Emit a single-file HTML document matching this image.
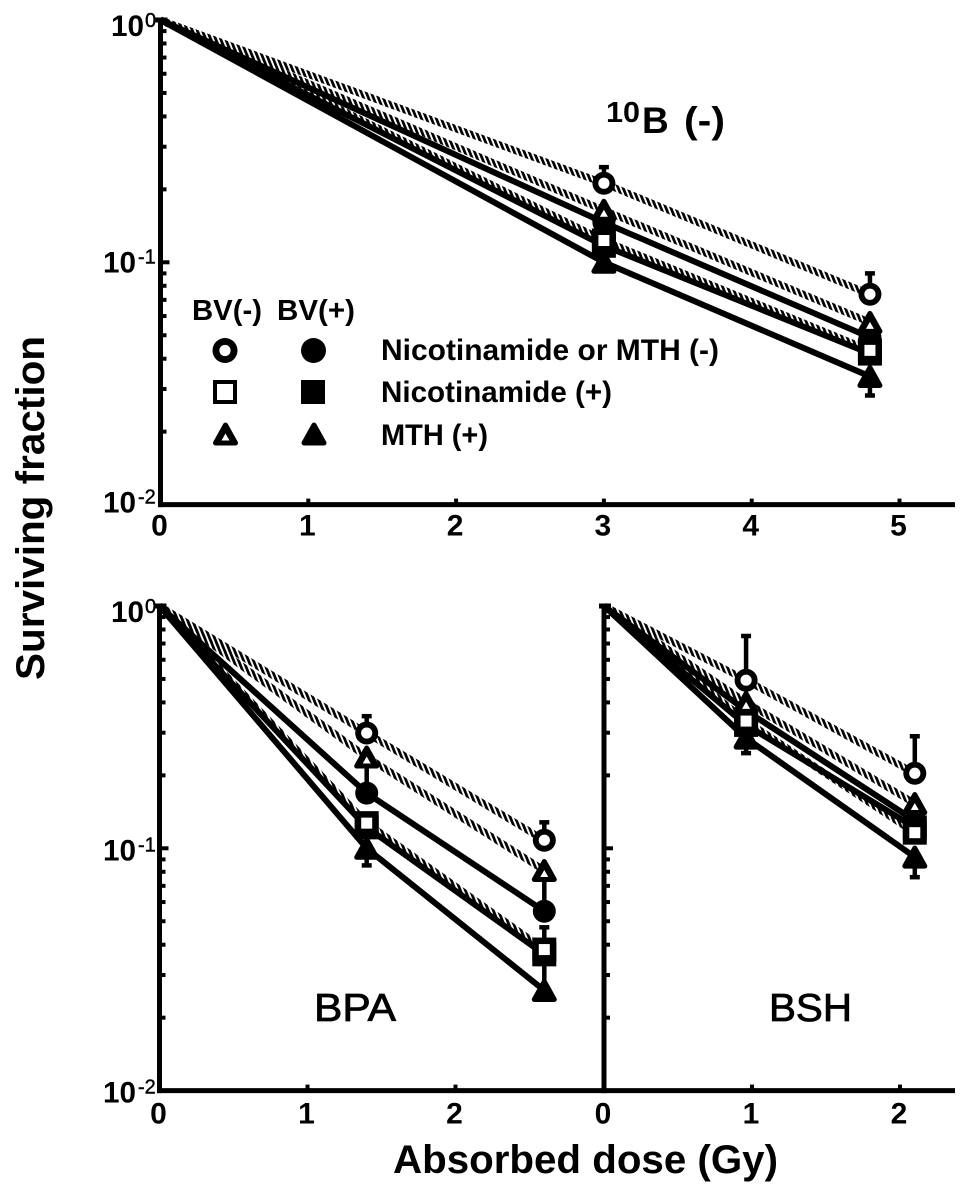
<!DOCTYPE html>
<html>
<head>
<meta charset="utf-8">
<title>Surviving fraction vs absorbed dose</title>
<style>
html,body{margin:0;padding:0;background:#fff;}
svg{display:block;}
text{font-family:"Liberation Sans",sans-serif;fill:#000;}
.b{font-weight:bold;}
</style>
</head>
<body>
<svg id="chart" xmlns="http://www.w3.org/2000/svg" width="969" height="1194" viewBox="0 0 969 1194">
  <defs>
    <pattern id="hatch" patternUnits="userSpaceOnUse" width="4.6" height="4.6" patternTransform="rotate(-22)">
      <rect x="0" y="0" width="2.7" height="4.6" fill="#000"></rect>
    </pattern>
  </defs>
  <rect x="0" y="0" width="969" height="1194" fill="#fff"></rect>
  <g id="plots"></g>

  <text class="b" x="44" y="508" font-size="40" text-anchor="middle" textLength="344" lengthAdjust="spacingAndGlyphs" transform="rotate(-90 44 508)">Surviving fraction</text>
  <text class="b" x="393" y="1173" font-size="40" textLength="385" lengthAdjust="spacingAndGlyphs">Absorbed dose (Gy)</text>

  <g>
    <text class="b" x="606" y="122" font-size="29" textLength="34" lengthAdjust="spacingAndGlyphs">10</text>
    <text class="b" x="642" y="133" font-size="37">B</text>
    <text class="b" x="684" y="133" font-size="37" textLength="41" lengthAdjust="spacingAndGlyphs">(-)</text>
  </g>
  <text x="314" y="1021" font-size="39" stroke="#000" stroke-width="0.8" textLength="82" lengthAdjust="spacingAndGlyphs">BPA</text>
  <text x="769" y="1021" font-size="39" stroke="#000" stroke-width="0.8" textLength="83" lengthAdjust="spacingAndGlyphs">BSH</text>

  <g id="legend">
    <text class="b" x="192" y="320" font-size="29" textLength="70" lengthAdjust="spacingAndGlyphs">BV(-)</text>
    <text class="b" x="277" y="320" font-size="29" textLength="78" lengthAdjust="spacingAndGlyphs">BV(+)</text>
    <text class="b" x="381" y="360" font-size="29.6" textLength="338" lengthAdjust="spacingAndGlyphs">Nicotinamide or MTH (-)</text>
    <text class="b" x="381" y="402" font-size="29.6" textLength="231" lengthAdjust="spacingAndGlyphs">Nicotinamide (+)</text>
    <text class="b" x="381" y="445" font-size="29.6" textLength="107" lengthAdjust="spacingAndGlyphs">MTH (+)</text>
  </g>
</svg>

<script>
// ---------- shared axis values ----------
const yDecadeExponents = [0, -1, -2];
const yMinorValues = [0.9, 0.8, 0.7, 0.6, 0.5, 0.4, 0.3, 0.2, 0.09, 0.08, 0.07, 0.06, 0.05, 0.04, 0.03, 0.02];
const yMajorValues = [0.1];

// ---------- 10B(-) panel ----------
const topDoses = [0, 3, 4.8];
const topXTicks = [0, 1, 2, 3, 4, 5];
const topOpenCircle = [1, 0.212, 0.0738];
const topOpenTriangle = [1, 0.164, 0.0565];
const topOpenSquare = [1, 0.123, 0.0433];
const topFilledCircle = [1, 0.146, 0.049];
const topFilledSquare = [1, 0.117, 0.042];
const topFilledTriangle = [1, 0.1, 0.0338];
const topOpenCircleUpper = [null, 0.247, 0.09];
const topFilledTriangleLower = [null, null, 0.0282];

// ---------- BPA panel ----------
const bpaDoses = [0, 1.4, 2.6];
const bpaXTicks = [0, 1, 2];
const bpaOpenCircle = [1, 0.299, 0.108];
const bpaOpenTriangle = [1, 0.238, 0.081];
const bpaOpenSquare = [1, 0.127, 0.0382];
const bpaFilledCircle = [1, 0.169, 0.055];
const bpaFilledSquare = [1, 0.122, 0.0365];
const bpaFilledTriangle = [1, 0.1, 0.0259];
const bpaOpenCircleUpper = [null, 0.351, 0.128];
const bpaOpenTriangleLower = [null, 0.169, 0.055];
const bpaFilledSquareUpper = [null, null, 0.0472];
const bpaFilledSquareLower = [null, 0.1, 0.0259];
const bpaFilledTriangleLower = [null, 0.085, null];

// ---------- BSH panel ----------
const bshDoses = [0, 0.96, 2.1];
const bshXTicks = [0, 1, 2];
const bshOpenCircle = [1, 0.494, 0.204];
const bshOpenTriangle = [1, 0.4, 0.153];
const bshOpenSquare = [1, 0.335, 0.116];
const bshFilledCircle = [1, 0.37, 0.13];
const bshFilledSquare = [1, 0.323, 0.122];
const bshFilledTriangle = [1, 0.285, 0.092];
const bshOpenCircleUpper = [null, 0.752, 0.29];
const bshFilledTriangleLower = [null, 0.247, 0.076];

const SVG_NS = 'http://www.w3.org/2000/svg';
const plots = document.getElementById('plots');
const legend = document.getElementById('legend');

function make(parent, tag, attrs, name) {
  const el = document.createElementNS(SVG_NS, tag);
  for (const k in attrs) el.setAttribute(k, attrs[k]);
  
  
  parent.appendChild(el);
  return el;
}

function xScale(panel, dose) { return panel.left + dose * panel.pxPerGy; }
function yScale(panel, value) { return panel.top - Math.log10(value) * panel.pxPerDecade; }

function drawMarker(parent, shape, open, x, y, name, big) {
  const g = make(parent, 'g', { transform: 'translate(' + x + ' ' + y + ')' }, name);
  if (shape === 'circle') {
    make(g, 'circle', { r: big ? 12.5 : 11.5, fill: '#000' }, 'marker-body');
    if (open) make(g, 'circle', { r: 5.6, fill: '#fff' }, 'marker-hole');
  } else if (shape === 'square') {
    make(g, 'rect', { x: -12, y: -12, width: 24, height: 24, fill: '#000' }, 'marker-body');
    const h = big ? 8 : 5.5;
    if (open) make(g, 'rect', { x: -h, y: -h, width: 2 * h, height: 2 * h, fill: '#fff' }, 'marker-hole');
  } else {
    make(g, 'polygon', {
      points: '-10,9 10,9 0,-9',
      fill: '#000', stroke: '#000', 'stroke-width': 5, 'stroke-linejoin': 'round'
    }, 'marker-body');
    if (open) make(g, 'polygon', { points: '-4,6.5 4,6.5 0,-0.5', fill: '#fff' }, 'marker-hole');
  }
  return g;
}

function drawAxes(panel) {
  const g = make(plots, 'g', {}, panel.id + '-axes');
  make(g, 'line', { x1: panel.left, y1: yScale(panel, 1) - 2, x2: panel.left, y2: yScale(panel, 0.01) + 2.5, stroke: '#000', 'stroke-width': 5 }, panel.id + '-y-axis');
  if (panel.xStart !== undefined) {
    make(g, 'line', { x1: panel.xStart, y1: yScale(panel, 0.01), x2: panel.xEnd, y2: yScale(panel, 0.01), stroke: '#000', 'stroke-width': 5 }, panel.id + '-x-axis');
  }
  make(g, 'rect', { x: panel.left - 5, y: yScale(panel, 1) - 2.5, width: 12, height: 5, fill: '#000' }, panel.id + '-y-top-cap');
  yMinorValues.forEach(function (v) {
    make(g, 'line', { x1: panel.left, y1: yScale(panel, v), x2: panel.left + 6, y2: yScale(panel, v), stroke: '#000', 'stroke-width': 4 }, panel.id + '-y-minor-tick');
  });
  yMajorValues.forEach(function (v) {
    make(g, 'line', { x1: panel.left, y1: yScale(panel, v), x2: panel.left + 9, y2: yScale(panel, v), stroke: '#000', 'stroke-width': 4 }, panel.id + '-y-major-tick');
  });
  panel.xTicks.forEach(function (t) {
    const x = xScale(panel, t);
    if (t !== 0) {
      make(g, 'line', { x1: x, y1: yScale(panel, 0.01), x2: x, y2: yScale(panel, 0.01) - 6, stroke: '#000', 'stroke-width': 4 }, panel.id + '-x-tick');
    }
    const label = make(g, 'text', { x: x - 1, y: yScale(panel, 0.01) + panel.tickDrop, 'font-size': 30, 'font-weight': 'bold', 'text-anchor': 'middle' }, panel.id + '-x-tick-label');
    label.textContent = String(t);
  });
  if (panel.labelDrop) {
    yDecadeExponents.forEach(function (e, i) {
      const y = yScale(panel, Math.pow(10, e));
      const wide = e !== 0;
      const base = make(g, 'text', { x: wide ? 103 : 111, y: y + panel.labelDrop(i), 'font-size': 30, 'font-weight': 'bold', textLength: 33, lengthAdjust: 'spacingAndGlyphs' }, panel.id + '-y-tick-label');
      base.textContent = '10';
      const sup = make(g, 'text', { x: wide ? 138 : 145, y: y + panel.labelDrop(i) - 9, 'font-size': 20 }, panel.id + '-y-tick-exponent');
      sup.setAttribute('stroke', '#000');
      sup.setAttribute('stroke-width', '0.4');
      sup.textContent = String(e);
    });
  }
}

function drawSeries(panel) {
  const g = make(plots, 'g', {}, panel.id + '-series');
  const pt = function (i, values) { return xScale(panel, panel.doses[i]) + ',' + yScale(panel, values[i]); };
  const polyPoints = function (values) { return values.map(function (v, i) { return pt(i, values); }).join(' '); };

  panel.series.filter(function (s) { return !s.open; }).forEach(function (s) {
    make(g, 'polyline', { points: polyPoints(s.values), fill: 'none', stroke: '#000', 'stroke-width': 6, 'stroke-linejoin': 'round' }, panel.id + '-line-' + s.key);
  });
  panel.series.filter(function (s) { return s.open; }).forEach(function (s) {
    make(g, 'polyline', { points: polyPoints(s.values), fill: 'none', stroke: 'url(#hatch)', 'stroke-width': 7, 'stroke-linejoin': 'round' }, panel.id + '-line-' + s.key);
  });

  panel.series.forEach(function (s) {
    [s.upper, s.lower].forEach(function (bound) {
      if (!bound) return;
      bound.forEach(function (v, i) {
        if (v === null) return;
        const x = xScale(panel, panel.doses[i]);
        const y1 = yScale(panel, s.values[i]);
        const y2 = yScale(panel, v);
        make(g, 'line', { x1: x, y1: y1, x2: x, y2: y2, stroke: '#000', 'stroke-width': 4.5 }, panel.id + '-error-stem-' + s.key);
        make(g, 'line', { x1: x - 5, y1: y2, x2: x + 5, y2: y2, stroke: '#000', 'stroke-width': 4.5 }, panel.id + '-error-cap-' + s.key);
      });
    });
  });

  const ordered = panel.series.filter(function (s) { return !s.open; }).concat(panel.series.filter(function (s) { return s.open; }));
  ordered.forEach(function (s) {
    s.values.forEach(function (v, i) {
      if (i === 0) return;
      drawMarker(g, s.shape, s.open, xScale(panel, panel.doses[i]), yScale(panel, v), panel.id + '-marker-' + s.key, false);
    });
  });
}

const topPanel = {
  id: 'top-panel', left: 160.5, top: 20, pxPerGy: 147.8, pxPerDecade: 242.3, xStart: 158, xEnd: 955, tickDrop: 31,
  labelDrop: function (i) { return i === 0 ? 16 : (i === 1 ? 10 : 8); },
  xTicks: topXTicks, doses: topDoses,
  series: [
    { key: 'bv-minus-control', shape: 'circle', open: true, values: topOpenCircle, upper: topOpenCircleUpper },
    { key: 'bv-minus-mth', shape: 'triangle', open: true, values: topOpenTriangle },
    { key: 'bv-plus-control', shape: 'circle', open: false, values: topFilledCircle },
    { key: 'bv-minus-nicotinamide', shape: 'square', open: true, values: topOpenSquare },
    { key: 'bv-plus-nicotinamide', shape: 'square', open: false, values: topFilledSquare },
    { key: 'bv-plus-mth', shape: 'triangle', open: false, values: topFilledTriangle, lower: topFilledTriangleLower }
  ]
};
const bpaPanel = {
  id: 'bpa-panel', left: 159.5, top: 606, pxPerGy: 148, pxPerDecade: 242.3, xStart: 157, xEnd: 955, tickDrop: 33,
  labelDrop: function (i) { return i === 0 ? 16 : 12; },
  xTicks: bpaXTicks, doses: bpaDoses,
  series: [
    { key: 'bv-minus-control', shape: 'circle', open: true, values: bpaOpenCircle, upper: bpaOpenCircleUpper },
    { key: 'bv-minus-mth', shape: 'triangle', open: true, values: bpaOpenTriangle, lower: bpaOpenTriangleLower },
    { key: 'bv-plus-control', shape: 'circle', open: false, values: bpaFilledCircle },
    { key: 'bv-minus-nicotinamide', shape: 'square', open: true, values: bpaOpenSquare },
    { key: 'bv-plus-nicotinamide', shape: 'square', open: false, values: bpaFilledSquare, upper: bpaFilledSquareUpper, lower: bpaFilledSquareLower },
    { key: 'bv-plus-mth', shape: 'triangle', open: false, values: bpaFilledTriangle, lower: bpaFilledTriangleLower }
  ]
};
const bshPanel = {
  id: 'bsh-panel', left: 604, top: 606, pxPerGy: 148, pxPerDecade: 242.3, tickDrop: 33,
  xTicks: bshXTicks, doses: bshDoses,
  series: [
    { key: 'bv-minus-control', shape: 'circle', open: true, values: bshOpenCircle, upper: bshOpenCircleUpper },
    { key: 'bv-minus-mth', shape: 'triangle', open: true, values: bshOpenTriangle },
    { key: 'bv-plus-control', shape: 'circle', open: false, values: bshFilledCircle },
    { key: 'bv-minus-nicotinamide', shape: 'square', open: true, values: bshOpenSquare },
    { key: 'bv-plus-nicotinamide', shape: 'square', open: false, values: bshFilledSquare },
    { key: 'bv-plus-mth', shape: 'triangle', open: false, values: bshFilledTriangle, lower: bshFilledTriangleLower }
  ]
};

[topPanel, bpaPanel, bshPanel].forEach(function (p) {
  drawSeries(p);
  drawAxes(p);
});

drawMarker(legend, 'circle', true, 225, 350.5, 'legend-marker-open-circle', true);
drawMarker(legend, 'circle', false, 313.5, 350.5, 'legend-marker-filled-circle', true);
drawMarker(legend, 'square', true, 225, 392, 'legend-marker-open-square', true);
drawMarker(legend, 'square', false, 313, 392, 'legend-marker-filled-square', true);
drawMarker(legend, 'triangle', true, 225.5, 434, 'legend-marker-open-triangle', true);
drawMarker(legend, 'triangle', false, 314, 434, 'legend-marker-filled-triangle', true);
</script>
</body>
</html>
